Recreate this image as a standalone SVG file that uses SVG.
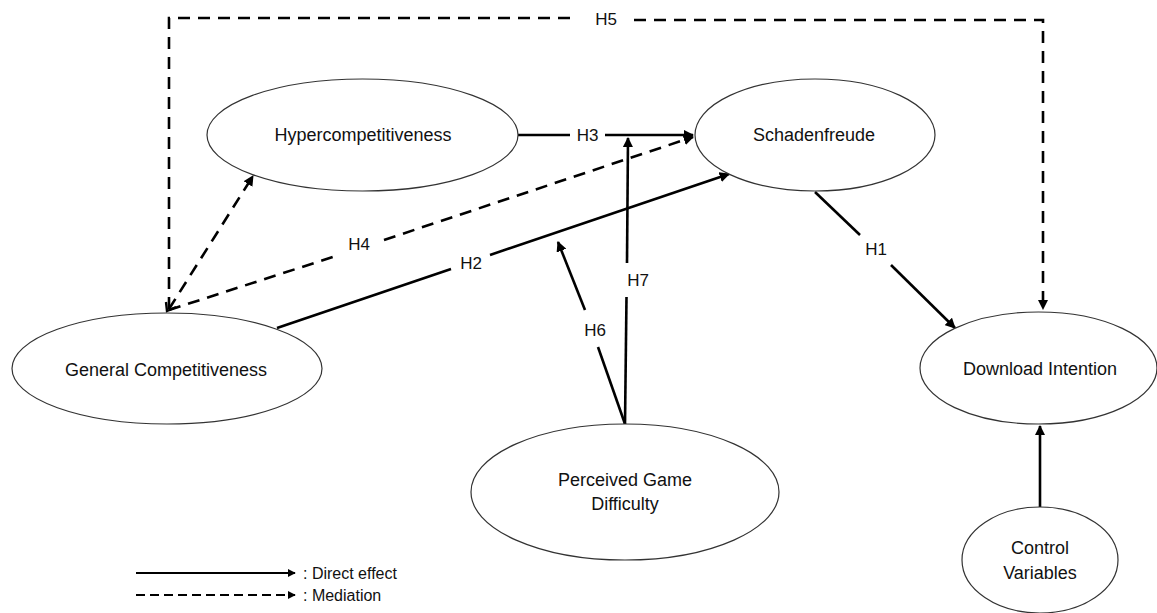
<svg xmlns="http://www.w3.org/2000/svg" width="1157" height="613" viewBox="0 0 1157 613">
<style>
.node ellipse{fill:#fff;stroke:#333;stroke-width:1.2}
text{font-family:"Liberation Sans",Arial,sans-serif;font-size:18px;fill:#111;text-anchor:middle;dominant-baseline:central}
.c{fill:none;stroke:#000;stroke-width:2.6}
.d{fill:none;stroke:#000;stroke-width:2.6;stroke-dasharray:12 8}
.lbl{font-size:17px}
.leg{text-anchor:start;font-size:16px}
</style>
<defs>
<marker id="a" viewBox="0 0 10 10" refX="9" refY="5" markerWidth="4" markerHeight="4" orient="auto" markerUnits="strokeWidth">
<path d="M0,0 L10,5 L0,10 z" fill="#000"/>
</marker>
</defs>
<rect width="1157" height="613" fill="#fff"/>
<g id="connectors">
<path class="d" d="M169,309 V18 H577"/>
<path class="d" d="M634,20 H1043 V309" marker-end="url(#a)"/>
<path class="d" d="M169,309 L253,176" marker-end="url(#a)"/>
<path d="M166,302 L167,311 L176,307" fill="none" stroke="#000" stroke-width="2.4"/>
<path class="d" d="M169,310 L336,256"/>
<path class="d" d="M384,240 L693,137" marker-end="url(#a)"/>
<path class="c" d="M277,328 L451,269"/>
<path class="c" d="M490,255 L729,174" marker-end="url(#a)"/>
<path class="c" d="M518,135 H570"/>
<path class="c" d="M605,135 H693" marker-end="url(#a)"/>
<path class="c" d="M625,424 L626.5,297"/>
<path class="c" d="M627,263 L628,138" marker-end="url(#a)"/>
<path class="c" d="M625,424 L598,347"/>
<path class="c" d="M585,310 L558,242" marker-end="url(#a)"/>
<path class="c" d="M815,192 L860,235"/>
<path class="c" d="M891,265 L955,328" marker-end="url(#a)"/>
<path class="c" d="M1040,507 V426" marker-end="url(#a)"/>
<text class="lbl" x="606" y="19">H5</text>
<text class="lbl" x="587.5" y="135">H3</text>
<text class="lbl" x="359" y="244">H4</text>
<text class="lbl" x="471" y="263">H2</text>
<text class="lbl" x="638" y="280">H7</text>
<text class="lbl" x="595" y="330">H6</text>
<text class="lbl" x="876" y="249">H1</text>
</g>
<g id="hyper" class="node"><ellipse cx="362.5" cy="135" rx="155.5" ry="56"/><text x="363" y="135">Hypercompetitiveness</text></g>
<g id="schaden" class="node"><ellipse cx="815" cy="135" rx="120" ry="56"/><text x="814" y="135">Schadenfreude</text></g>
<g id="general" class="node"><ellipse cx="167" cy="368.5" rx="155" ry="55.5"/><text x="166" y="370">General Competitiveness</text></g>
<g id="download" class="node"><ellipse cx="1038.5" cy="368" rx="118.5" ry="56"/><text x="1040" y="369">Download Intention</text></g>
<g id="perceived" class="node"><ellipse cx="625" cy="492" rx="154" ry="68"/><text x="625" y="480">Perceived Game</text><text x="625" y="504">Difficulty</text></g>
<g id="control" class="node"><ellipse cx="1040" cy="560" rx="78" ry="53"/><text x="1040" y="548">Control</text><text x="1040" y="573">Variables</text></g>
<g id="legend">
<path d="M136,573 H295" fill="none" stroke="#000" stroke-width="2" marker-end="url(#a)"/>
<path d="M136,595 H295" fill="none" stroke="#000" stroke-width="2" stroke-dasharray="9 5" marker-end="url(#a)"/>
<text class="leg" x="303" y="573">: Direct effect</text>
<text class="leg" x="303" y="595">: Mediation</text>
</g>
</svg>
